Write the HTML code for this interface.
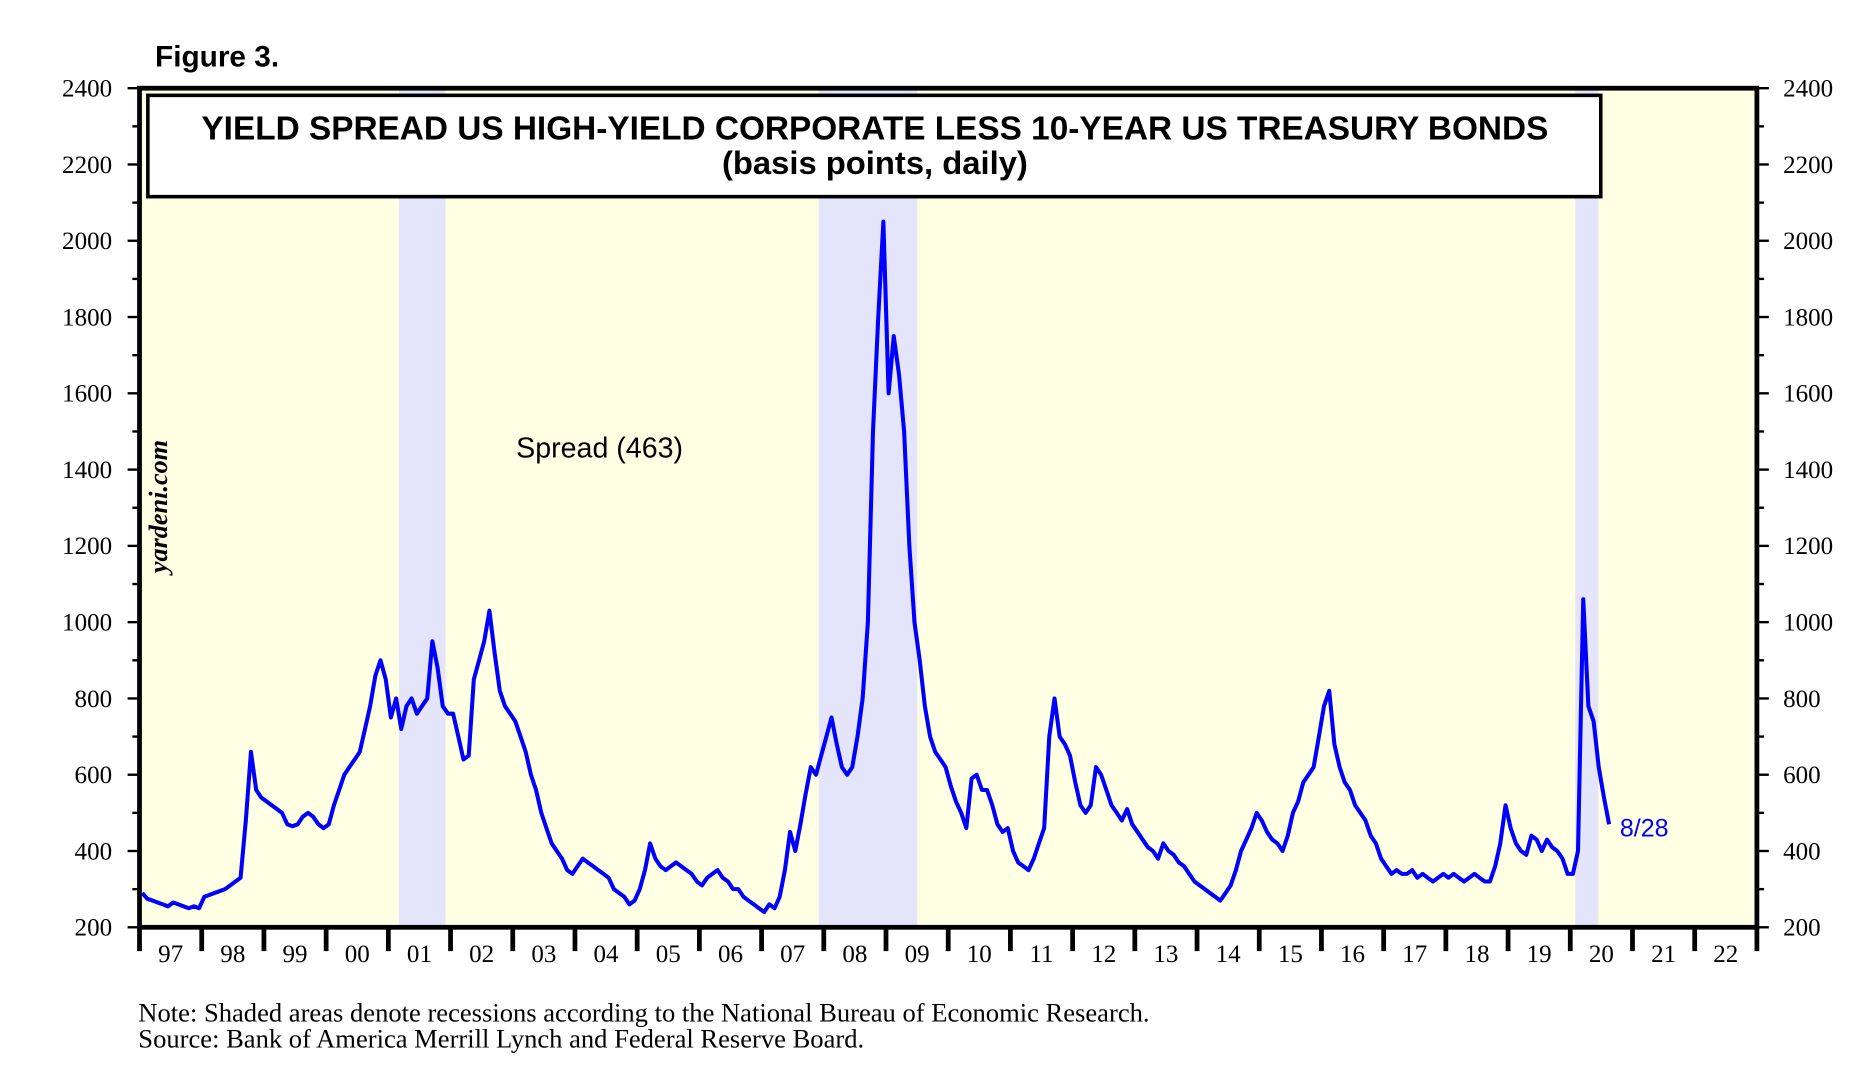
<!DOCTYPE html>
<html><head><meta charset="utf-8"><style>
html,body{margin:0;padding:0;background:#fff;}
svg{display:block;}
</style></head><body>
<svg id="chart" width="1869" height="1087" viewBox="0 0 1568 912" xmlns="http://www.w3.org/2000/svg" font-family="'Liberation Serif', serif">
<text x="130" y="56" font-family="'Liberation Sans', sans-serif" font-weight="bold" font-size="25">Figure 3.</text>
<rect x="117" y="74" width="1357" height="704" fill="#ffffe3"/>
<g id="recessions"></g>
<rect x="124" y="80" width="1219" height="85" fill="#fff" stroke="#000" stroke-width="3"/>
<text x="734" y="117" text-anchor="middle" font-family="'Liberation Sans', sans-serif" font-weight="bold" font-size="28">YIELD SPREAD US HIGH-YIELD CORPORATE LESS 10-YEAR US TREASURY BONDS</text>
<text x="734" y="146" text-anchor="middle" font-family="'Liberation Sans', sans-serif" font-weight="bold" font-size="27.5">(basis points, daily)</text>
<g id="series"></g>
<g id="axes"></g>
<text x="433" y="384" font-family="'Liberation Sans', sans-serif" font-size="24">Spread (463)</text>
<text x="1359" y="702" fill="#0000ff" font-family="'Liberation Sans', sans-serif" font-size="21">8/28</text>
<text transform="translate(140,425) rotate(-90)" text-anchor="middle" font-style="italic" font-weight="bold" font-size="22">yardeni.com</text>
<text x="116" y="857" font-size="22.3">Note: Shaded areas denote recessions according to the National Bureau of Economic Research.</text>
<text x="116" y="879" font-size="22.3">Source: Bank of America Merrill Lynch and Federal Reserve Board.</text>
</svg>
<script>
const startYear = 1997;
const yTicks = [200,400,600,800,1000,1200,1400,1600,1800,2000,2200,2400];
const yearLabels = ["97","98","99","00","01","02","03","04","05","06","07","08","09","10","11","12","13","14","15","16","17","18","19","20","21","22"];
const recessionStarts = [2001.17, 2007.92, 2020.08];
const recessionEnds = [2001.92, 2009.5, 2020.45];
// monthly spread values (bp), Jan 1997 onward
const spreadValues = [
290,275,270,265,260,255,265,260,255,250,255,250,
280,285,290,295,300,310,320,330,480,660,560,540,
530,520,510,500,470,465,470,490,500,490,470,460,
470,520,560,600,620,640,660,720,780,860,900,850,
750,800,720,780,800,760,780,800,950,880,780,760,
760,700,640,650,850,900,950,1030,920,820,780,760,
740,700,660,600,560,500,460,420,400,380,350,340,
360,380,370,360,350,340,330,300,290,280,260,270,
300,350,420,380,360,350,360,370,360,350,340,320,
310,330,340,350,330,320,300,300,280,270,260,250,
240,260,250,280,350,450,400,470,550,620,600,650,
700,750,680,620,600,620,700,800,1000,1500,1800,2050,
1600,1750,1650,1500,1200,1000,900,780,700,660,640,620,
570,530,500,460,590,600,560,560,520,470,450,460,
400,370,360,350,380,420,460,700,800,700,680,650,
580,520,500,520,620,600,560,520,500,480,510,470,
450,430,410,400,380,420,400,390,370,360,340,320,
310,300,290,280,270,290,310,350,400,430,460,500,
480,450,430,420,400,440,500,530,580,600,620,700,
780,820,680,620,580,560,520,500,480,440,420,380,
360,340,350,340,340,350,330,340,330,320,330,340,
330,340,330,320,330,340,330,320,320,360,420,520,
460,420,400,390,440,430,400,430,410,400,380,340,
340,400,1060,780,740,620,540,470
];
const X0=117,X1=1474,Y0=778,Y1=74;
const xScale = y => X0 + (y-startYear)*(X1-X0)/26;
const yScale = v => Y0 - (v-200)*(Y0-Y1)/2200;
const NS="http://www.w3.org/2000/svg";
function mk(tag, attrs, parent){const e=document.createElementNS(NS,tag);for(const k in attrs)e.setAttribute(k,attrs[k]);parent.appendChild(e);return e;}
const rec=document.getElementById('recessions');
recessionStarts.forEach((s,i)=>{
  const r=mk('rect',{x:xScale(s),y:Y1,width:xScale(recessionEnds[i])-xScale(s),height:Y0-Y1,fill:'#e4e4fa'},rec);
  
  
});
const ser=document.getElementById('series');
const pts=spreadValues.map((v,i)=>xScale(startYear+(i+0.5)/12).toFixed(1)+','+yScale(v).toFixed(1)).join(' ');
const line=mk('polyline',{points:pts,fill:'none',stroke:'#0000ff','stroke-width':3.4,'stroke-linejoin':'round'},ser);


const ax=document.getElementById('axes');
const frame=mk('rect',{x:X0,y:Y1,width:X1-X0,height:Y0-Y1,fill:'none',stroke:'#000','stroke-width':4},ax);


for(let v=200;v<=2400;v+=100){
  const y=yScale(v), major=v%200===0, len=major?10:6;
  mk('line',{x1:X0-len,x2:X0,y1:y,y2:y,stroke:'#000','stroke-width':2},ax);
  mk('line',{x1:X1,x2:X1+len,y1:y,y2:y,stroke:'#000','stroke-width':2},ax);
}
yTicks.forEach(v=>{
  const y=yScale(v)+7;
  const l=mk('text',{x:94,y:y,'text-anchor':'end','font-size':21},ax);l.textContent=v;
  
  
  const r=mk('text',{x:1496,y:y,'font-size':21},ax);r.textContent=v;
  
  
});
yearLabels.forEach((lab,i)=>{
  const x=xScale(startYear+i);
  mk('line',{x1:x,x2:x,y1:Y0,y2:Y0+20,stroke:'#000','stroke-width':4},ax);
  const t=mk('text',{x:xScale(startYear+i+0.5),y:807,'text-anchor':'middle','font-size':21},ax);t.textContent=lab;
  
  
});
mk('line',{x1:X1,x2:X1,y1:Y0,y2:Y0+20,stroke:'#000','stroke-width':4},ax);
</script>
</body></html>
